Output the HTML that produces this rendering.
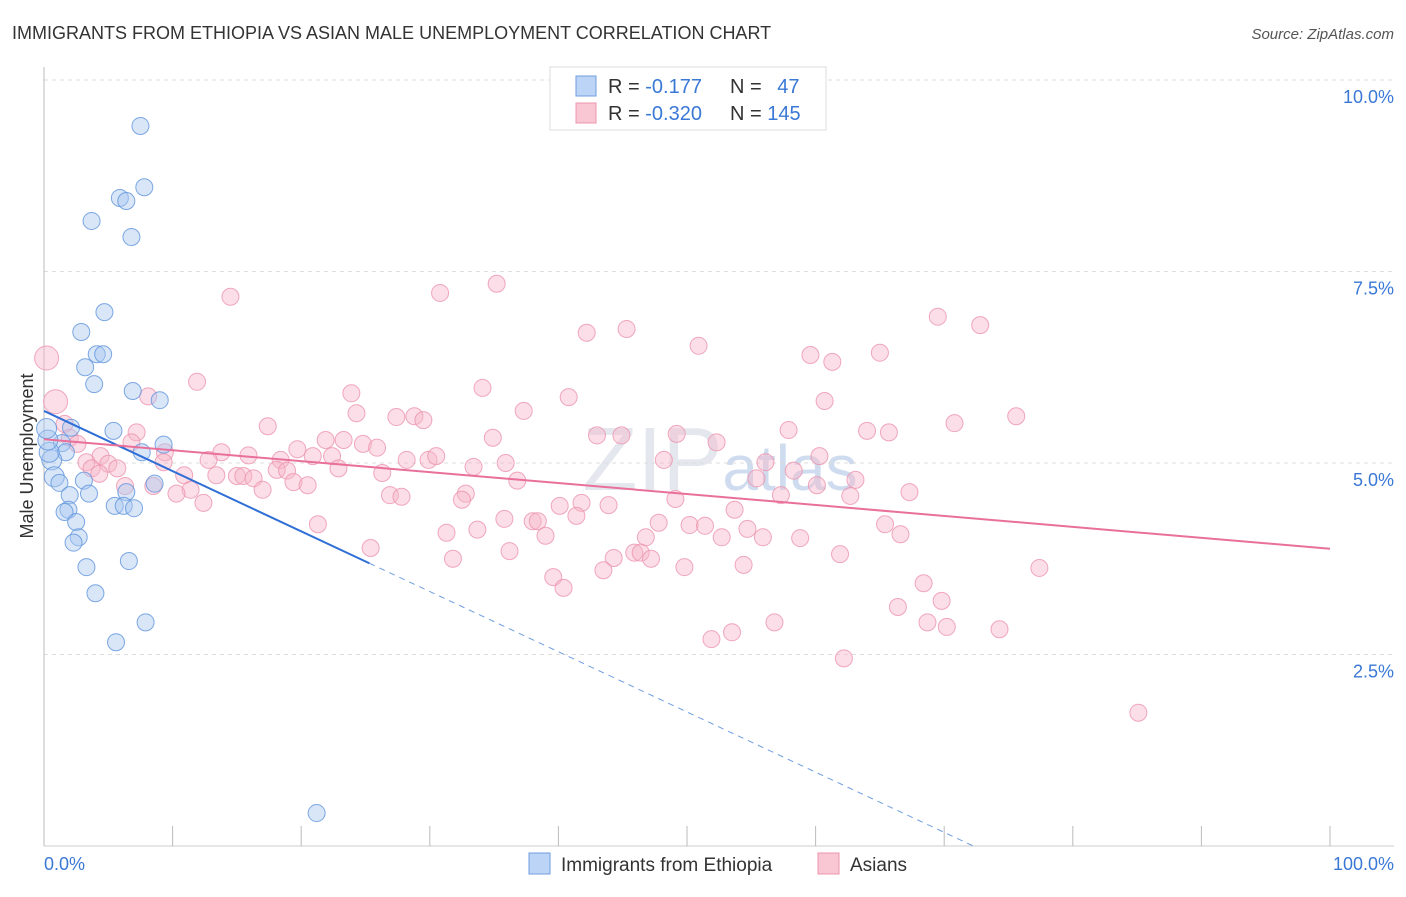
<!DOCTYPE html>
<html><head><meta charset="utf-8"><style>
body{margin:0;background:#fff;font-family:"Liberation Sans",sans-serif;}
svg text{font-family:"Liberation Sans",sans-serif;}
</style></head><body>
<svg id="chart" width="1406" height="892" viewBox="0 0 1406 892">
<text x="12" y="39" font-size="18" fill="#333">IMMIGRANTS FROM ETHIOPIA VS ASIAN MALE UNEMPLOYMENT CORRELATION CHART</text>
<text x="1394" y="39" font-size="15" fill="#555" text-anchor="end" font-style="italic">Source: ZipAtlas.com</text>
<text x="720" y="490" font-size="90" fill="#e4e8ee" text-anchor="middle" font-family="Liberation Serif">ZIP<tspan font-size="64" fill="#cfdcef" font-family="Liberation Sans">atlas</tspan></text>
<g id="grid"></g>
<g id="axes"></g>
<g id="marks"></g>
<g id="trend"></g>
<text transform="translate(33,456) rotate(-90)" font-size="18" fill="#333" text-anchor="middle">Male Unemployment</text>
<text x="44" y="870" font-size="18" fill="#3a78d6">0.0%</text>
<text x="1394" y="870" font-size="18" fill="#3a78d6" text-anchor="end">100.0%</text>
<g>
<rect x="550" y="67" width="276" height="63" fill="#fff" stroke="#ddd"/>
<rect x="576" y="76" width="20" height="20" fill="#bcd4f5" stroke="#6f9ee0"/>
<rect x="576" y="103" width="20" height="20" fill="#f9c6d4" stroke="#ec94ae"/>
<text x="608" y="93" font-size="20" fill="#333">R = <tspan fill="#3a78d6">-0.177</tspan></text>
<text x="730" y="93" font-size="20" fill="#333">N = <tspan fill="#3a78d6" dx="10">47</tspan></text>
<text x="608" y="120" font-size="20" fill="#333">R = <tspan fill="#3a78d6">-0.320</tspan></text>
<text x="730" y="120" font-size="20" fill="#333">N = <tspan fill="#3a78d6">145</tspan></text>
</g>
<g>
<rect x="529" y="853" width="21" height="21" fill="#bcd4f5" stroke="#6f9ee0"/>
<text x="561" y="871" font-size="19" fill="#333">Immigrants from Ethiopia</text>
<rect x="818" y="853" width="21" height="21" fill="#f9c6d4" stroke="#ec94ae"/>
<text x="850" y="871" font-size="19" fill="#333">Asians</text>
</g>
</svg>
<script>
const yTicks=[2.5,5.0,7.5,10.0];
const xTicks=[0,10,20,30,40,50,60,70,80,90,100];
const blueX=[7.5,7.8,5.9,6.4,3.7,6.8,4.7,2.9,4.1,4.6,3.2,3.9,6.9,9.0,5.4,2.1,1.4,9.3,7.6,1.7,0.6,0.4,0.8,1.2,3.1,8.6,2.0,3.5,6.4,5.5,6.2,7.0,1.9,1.6,2.5,2.7,2.3,6.6,3.3,4.0,7.9,5.6,21.2,0.3,0.2];
const blueY=[9.40,8.60,8.46,8.42,8.16,7.95,6.97,6.71,6.42,6.42,6.25,6.03,5.94,5.82,5.42,5.46,5.26,5.24,5.14,5.14,5.04,5.14,4.82,4.74,4.77,4.73,4.58,4.60,4.62,4.44,4.44,4.41,4.39,4.36,4.23,4.03,3.96,3.72,3.64,3.30,2.92,2.66,0.43,5.30,5.45];
const pinkX=[0.2,0.9,1.6,14.5,30.8,35.2,11.9,8.1,42.2,45.3,50.9,59.6,61.3,65.0,69.5,72.8,23.9,34.1,40.8,60.7,17.4,24.3,27.4,28.8,29.5,37.3,75.6,70.8,7.2,2.0,2.6,21.9,23.3,24.8,25.9,34.9,43.0,44.9,49.2,52.3,57.9,64.0,65.7,6.8,9.4,13.8,15.9,19.7,20.9,22.4,4.4,3.3,5.0,5.7,3.7,12.8,18.4,9.3,28.2,29.9,30.5,35.9,33.4,22.9,48.2,56.1,60.3,58.3,4.3,10.9,13.4,15.0,15.5,16.3,18.1,18.9,26.3,19.4,20.5,36.8,55.4,60.1,63.1,6.3,8.5,11.4,10.3,17.0,26.9,27.8,32.8,32.5,49.1,57.3,62.7,67.3,12.4,40.1,41.8,43.9,53.7,21.3,35.8,38.0,38.4,41.4,47.8,50.2,51.4,54.7,65.4,33.7,31.3,39.0,46.8,52.7,55.9,58.8,66.6,25.4,36.2,45.9,46.4,44.3,47.2,61.9,31.8,43.5,49.8,54.4,77.4,39.6,40.4,68.4,69.8,66.4,68.7,70.2,56.8,74.3,53.5,51.9,62.2,85.1];
const pinkY=[6.37,5.80,5.51,7.17,7.22,7.34,6.06,5.87,6.70,6.75,6.53,6.41,6.32,6.44,6.91,6.80,5.91,5.98,5.86,5.81,5.48,5.65,5.60,5.61,5.56,5.68,5.61,5.52,5.40,5.33,5.25,5.30,5.30,5.25,5.20,5.33,5.36,5.36,5.38,5.27,5.43,5.42,5.40,5.27,5.14,5.14,5.10,5.18,5.09,5.09,5.09,5.01,4.99,4.93,4.93,5.04,5.04,5.01,5.04,5.04,5.09,5.00,4.95,4.93,5.04,5.01,5.09,4.90,4.86,4.84,4.84,4.83,4.83,4.80,4.91,4.90,4.87,4.75,4.71,4.77,4.80,4.71,4.78,4.70,4.70,4.65,4.60,4.65,4.58,4.56,4.60,4.52,4.53,4.58,4.57,4.62,4.48,4.44,4.48,4.45,4.39,4.20,4.27,4.24,4.24,4.31,4.22,4.19,4.18,4.14,4.20,4.13,4.09,4.05,4.03,4.03,4.03,4.02,4.07,3.89,3.85,3.83,3.83,3.76,3.75,3.81,3.75,3.60,3.64,3.67,3.63,3.51,3.37,3.43,3.20,3.12,2.92,2.86,2.92,2.83,2.79,2.70,2.45,1.74];
const blueTrend=[5.68,-0.0786];
const pinkTrend=[5.31,-0.0143];
const NS="http://www.w3.org/2000/svg";
const X0=44,X1=1330,Y0=846,PPU=76.6;
function sx(v){return X0+(X1-X0)*v/100;}
function sy(v){return Y0-PPU*v;}
function mk(tag,attrs,parent){const e=document.createElementNS(NS,tag);for(const k in attrs)e.setAttribute(k,attrs[k]);parent.appendChild(e);return e;}
const grid=document.getElementById('grid'),axes=document.getElementById('axes'),marks=document.getElementById('marks'),trend=document.getElementById('trend');
yTicks.forEach(t=>{
  const l=mk('line',{x1:44,x2:1394,y1:sy(t),y2:sy(t),stroke:'#ddd','stroke-dasharray':'4,4'},grid);
  
  
  const tx=mk('text',{x:1394,y:sy(t)+23,'font-size':18,fill:'#3a78d6','text-anchor':'end'},grid);
  tx.textContent=t.toFixed(1)+'%';
  
  
});
const ax=mk('line',{x1:44,x2:44,y1:67,y2:846,stroke:'#bbb'},axes);


const bx=mk('line',{x1:44,x2:1394,y1:846,y2:846,stroke:'#ccc'},axes);


xTicks.forEach(t=>{
  const l=mk('line',{x1:sx(t),x2:sx(t),y1:826,y2:846,stroke:'#bbb'},axes);
  
  
});
function pts(xs,ys,fill,stroke,name){
  xs.forEach((x,i)=>{
    const big=(x<1.5&&(ys[i]>5.7||ys[i]>5.4&&name==='pink'))?12:(x<1?10:8.5);
    const c=mk('circle',{cx:sx(x),cy:sy(ys[i]),r:big,fill:fill,'fill-opacity':0.45,stroke:stroke,'stroke-opacity':0.8,'stroke-width':1},marks);
    
    
  });
}
pts(pinkX,pinkY,'#f7b6c9','#ec94ae','pink');
pts(blueX,blueY,'#a9c7f0','#5f93dc','blue');
// blue trend
const bEnd=25.3, bZero=-blueTrend[0]/blueTrend[1];
const b1=mk('line',{x1:sx(0),y1:sy(blueTrend[0]),x2:sx(bEnd),y2:sy(blueTrend[0]+blueTrend[1]*bEnd),stroke:'#2f6fd6','stroke-width':2},trend);


const b2=mk('line',{x1:sx(bEnd),y1:sy(blueTrend[0]+blueTrend[1]*bEnd),x2:sx(bZero),y2:sy(0),stroke:'#6f9ee0','stroke-width':1,'stroke-dasharray':'6,5'},trend);


const p1=mk('line',{x1:sx(0),y1:sy(pinkTrend[0]),x2:sx(100),y2:sy(pinkTrend[0]+pinkTrend[1]*100),stroke:'#e8709a','stroke-width':2},trend);


</script>
</body></html>
